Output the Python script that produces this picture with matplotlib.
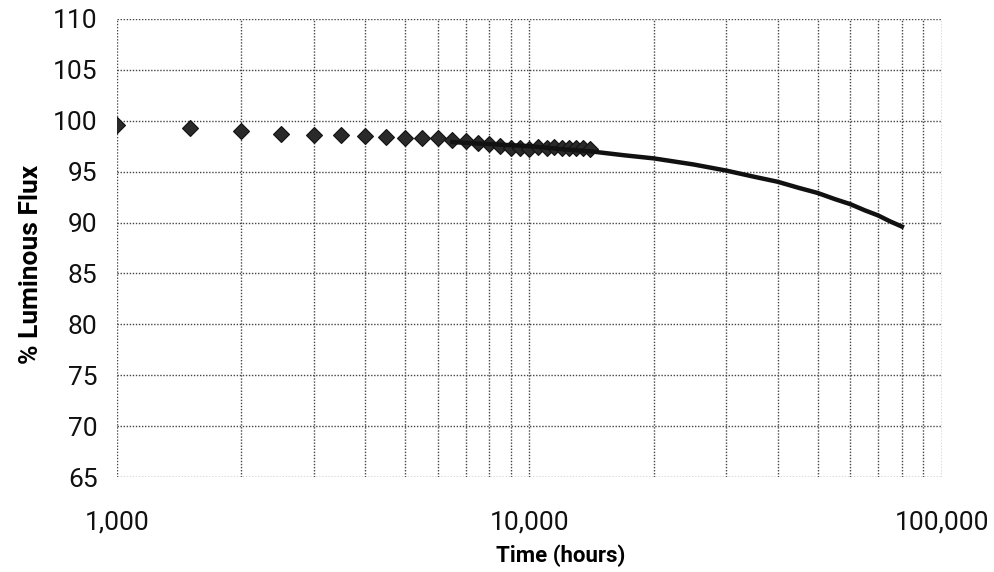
import numpy as np
import matplotlib
matplotlib.use("Agg")
import matplotlib.pyplot as plt
from matplotlib.ticker import FuncFormatter, LogLocator, MultipleLocator

# measured points (hours, % luminous flux)
hours = [1000, 1500, 2000, 2500, 3000, 3500, 4000, 4500, 5000, 5500,
         6000, 6500, 7000, 7500, 8000, 8500, 9000, 9500, 10000, 10500,
         11000, 11500, 12000, 12500, 13000, 13500, 14000]
flux = [99.6, 99.3, 99.0, 98.7, 98.6, 98.6, 98.5, 98.4, 98.3, 98.3,
        98.3, 98.1, 98.0, 97.8, 97.7, 97.5, 97.3, 97.3, 97.2, 97.4,
        97.3, 97.4, 97.3, 97.3, 97.3, 97.3, 97.2]

# projected curve
fit_hours = [6500, 8000, 10000, 12000, 14000, 17000, 20000, 25000, 30000, 35000,
             40000, 45000, 50000, 55000, 60000, 65000, 70000, 75000, 80000]
fit_flux = [97.9, 97.7, 97.5, 97.2, 97.0, 96.6, 96.3, 95.7, 95.1, 94.5,
            94.0, 93.4, 92.9, 92.3, 91.8, 91.2, 90.7, 90.1, 89.6]

plt.rcParams['font.family'] = ['Roboto', 'DejaVu Sans']

fig = plt.figure(figsize=(9.95, 5.72), dpi=100)
ax = fig.add_axes([0.1176, 0.166, 0.829, 0.801])

ax.plot(hours, flux, 'D', markersize=8, markerfacecolor='#2a2a2a',
        markeredgecolor='#111111', markeredgewidth=0.8, zorder=3)
ax.plot(fit_hours, fit_flux, '-', color='#111111', linewidth=3.2, zorder=4)

ax.set_xscale('log')
ax.set_xlim(1000, 100000)
ax.set_ylim(65, 110)
ax.yaxis.set_major_locator(MultipleLocator(5))
ax.xaxis.set_major_locator(LogLocator(base=10))
ax.xaxis.set_minor_locator(LogLocator(base=10, subs=np.arange(2, 10)))
ax.xaxis.set_major_formatter(FuncFormatter(lambda v, p: f"{int(v):,}"))
ax.xaxis.set_minor_formatter(FuncFormatter(lambda v, p: ""))

ax.grid(True, which='major', axis='both', linestyle=(0, (1, 1.2)), color='#444444', linewidth=1.0)
ax.grid(True, which='minor', axis='x', linestyle=(0, (1, 1.2)), color='#444444', linewidth=1.0)
for s in ax.spines.values():
    s.set_visible(False)
ax.tick_params(which='both', length=0)
ax.tick_params(axis='both', labelsize=19, colors='#111111')
ax.tick_params(axis='x', pad=24)
ax.tick_params(axis='y', pad=14)

ax.set_ylabel('% Luminous Flux', fontsize=19, fontweight='bold')
ax.yaxis.set_label_coords(-0.09, 0.463)
ax.set_xlabel('Time (hours)', fontsize=16, fontweight='bold')
ax.xaxis.set_label_coords(0.538, -0.148)

fig.savefig('out.png', dpi=100)
